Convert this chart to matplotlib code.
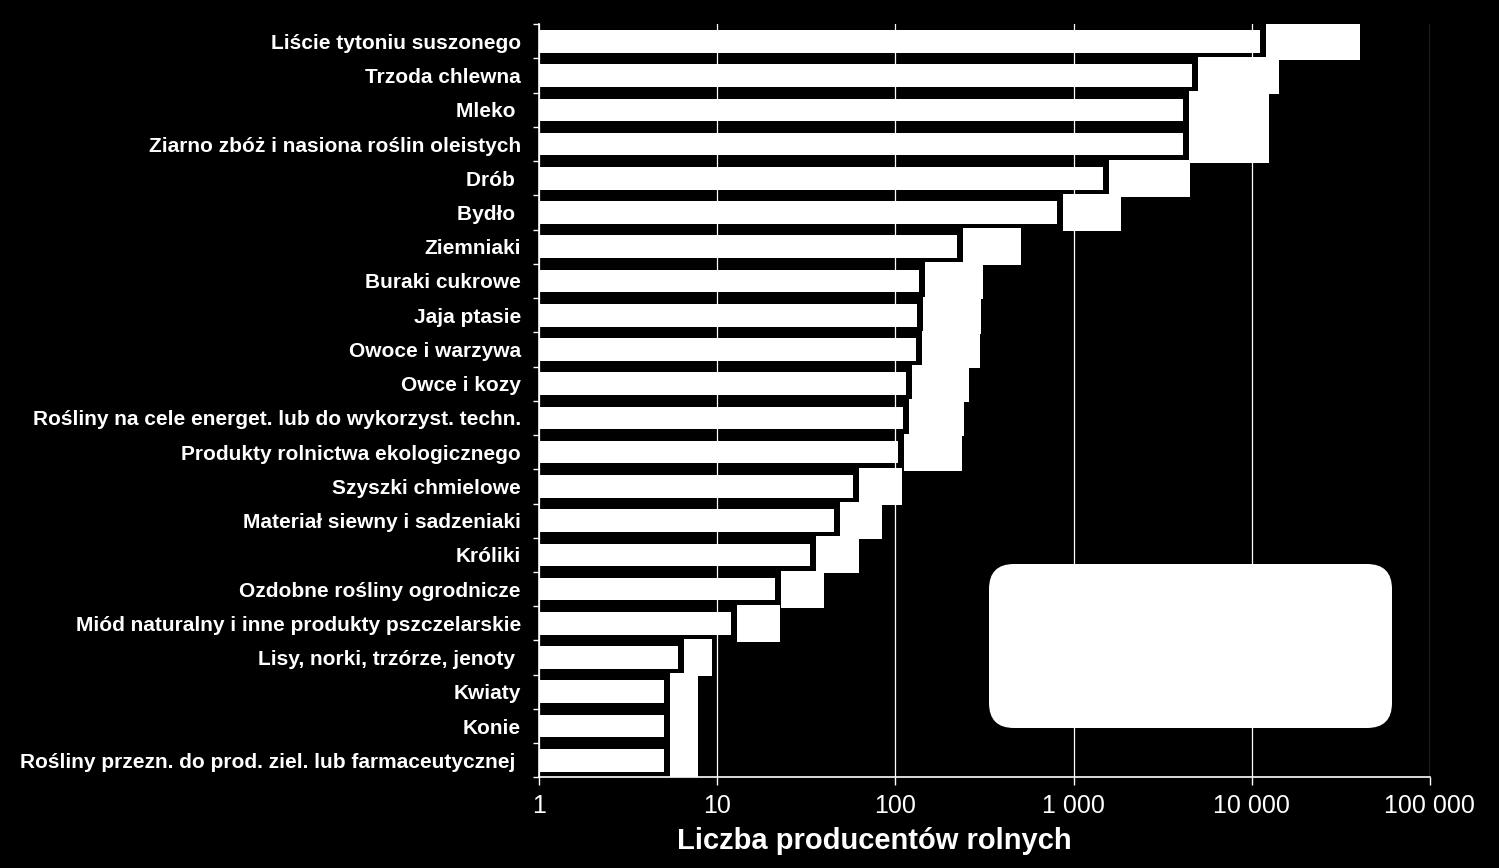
import matplotlib
matplotlib.use("Agg")
import matplotlib.pyplot as plt
import numpy as np
from matplotlib.patches import FancyBboxPatch
from matplotlib.ticker import FuncFormatter, FixedLocator
from matplotlib.transforms import IdentityTransform

# Data
categories = [
    "Liście tytoniu suszonego",
    "Trzoda chlewna",
    "Mleko ",
    "Ziarno zbóż i nasiona roślin oleistych",
    "Drób ",
    "Bydło ",
    "Ziemniaki",
    "Buraki cukrowe",
    "Jaja ptasie",
    "Owoce i warzywa",
    "Owce i kozy",
    "Rośliny na cele energet. lub do wykorzyst. techn.",
    "Produkty rolnictwa ekologicznego",
    "Szyszki chmielowe",
    "Materiał siewny i sadzeniaki",
    "Króliki",
    "Ozdobne rośliny ogrodnicze",
    "Miód naturalny i inne produkty pszczelarskie",
    "Lisy, norki, trzórze, jenoty ",
    "Kwiaty",
    "Konie",
    "Rośliny przezn. do prod. ziel. lub farmaceutycznej ",
]
series1 = [11100, 4600, 4100, 4100, 1460, 805, 221, 136, 132, 130, 115,
           110, 103, 58, 45, 33, 21, 12, 6, 5, 5, 5]
series2 = [29300, 9600, 8350, 8350, 3030, 1035, 285, 173, 169, 168, 143,
           132, 133, 51, 39, 29.5, 18.6, 10.5, 3.4, 2.8, 2.8, 2.8]
xticks = [1, 10, 100, 1000, 10000, 100000]

s1 = np.array(series1, dtype=float)
s2 = np.array(series2, dtype=float)
y = np.arange(len(categories))
gap = 1.08  # small black gap between the two segments

fig = plt.figure(figsize=(14.99, 8.68), dpi=100, facecolor="black")
ax = fig.add_axes([0.3596, 0.1044, 0.5943, 0.8677])
ax.set_facecolor("black")

ax.barh(y, s1 + s2 - s1 * gap, left=s1 * gap, height=1.08,
        color="white", zorder=3)
ax.barh(y, s1 - 1, left=1, height=0.66, color="white", zorder=3)

ax.set_xscale("log")
ax.set_xlim(1, 100000)
ax.set_ylim(len(categories) - 0.5, -0.5)

ax.xaxis.set_major_locator(FixedLocator(xticks))
ax.xaxis.set_minor_locator(FixedLocator([]))
ax.xaxis.set_major_formatter(FuncFormatter(lambda v, p: f"{int(v):,}".replace(",", " ")))
ax.grid(axis="x", color="white", linewidth=0.9, zorder=0)
ax.set_axisbelow(True)

ax.set_yticks(y)
ax.set_yticklabels(categories, fontfamily="Liberation Sans", fontweight="bold",
                   fontsize=15, color="white")
ax.set_yticks(np.arange(len(categories) + 1) - 0.5, minor=True)
ax.tick_params(axis="y", which="major", length=0, pad=13)
ax.tick_params(axis="y", which="minor", length=4.5, width=1, color="white")
ax.tick_params(axis="x", which="major", length=6, width=1, color="white",
               labelcolor="white", labelsize=18, pad=6)
for lbl in ax.get_xticklabels():
    lbl.set_fontfamily("Liberation Sans")

for side in ["top", "right"]:
    ax.spines[side].set_visible(False)
for side in ["left", "bottom"]:
    ax.spines[side].set_color("white")
    ax.spines[side].set_linewidth(1.2)

ax.set_xlabel("Liczba producentów rolnych", color="white", fontsize=21,
              fontweight="bold", family="Liberation Sans")
ax.xaxis.set_label_coords(0.376, -0.066)

# legend box (blank in the original)
box = FancyBboxPatch((989, 140), 403, 164, boxstyle="round,pad=0,rounding_size=25",
                     facecolor="white", edgecolor="none", transform=IdentityTransform(),
                     zorder=5)
fig.add_artist(box)

fig.savefig("out.png", dpi=100, facecolor="black")
